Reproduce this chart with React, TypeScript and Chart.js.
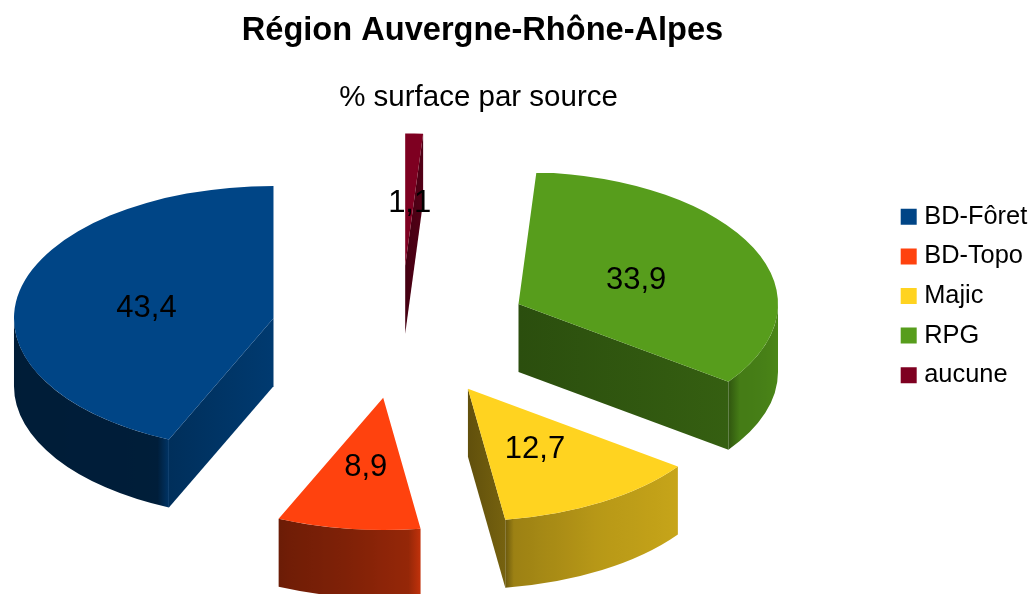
import React, { useEffect, useRef } from "react";
import { Chart, registerables } from "chart.js";

Chart.register(...registerables);

const categories = ["BD-Fôret", "BD-Topo", "Majic", "RPG", "aucune"];
const shares = [43.4, 8.9, 12.7, 33.9, 1.1];
const colours = ["#004586", "#ff420e", "#ffd320", "#579d1c", "#7e0021"];
const chartTitle = "Région Auvergne-Rhône-Alpes";
const chartSubtitle = "% surface par source";

// The pie runs clockwise from 12 o'clock starting with the last category.
const drawLabels = [...categories].reverse();
const drawValues = [...shares].reverse();
const drawColours = [...colours].reverse();

const FONT = "'Liberation Sans', Arial, sans-serif";
const RADIUS = 259.5;
const EXPLODE = 130;
const SQUASH = 0.51;
const DEPTH = 68;
const CENTER_X = 400.7;
const CENTER_Y = 332;

// Brightness of a wall by the clock direction (degrees) of its outward normal.
const rimShades: [number, number][] = [
  [60, 0.85], [90, 0.87], [114, 0.8], [126, 0.78], [150, 0.72], [172, 0.6],
  [188, 0.5], [204, 0.43], [240, 0.42], [270, 0.41], [300, 0.4],
];
const sideShades: [number, number][] = [
  [80, 0.78], [94, 0.6], [114, 0.76], [216, 0.55], [262, 0.42],
];

function shade(table: [number, number][], clockDeg: number) {
  const d = ((clockDeg % 360) + 360) % 360;
  if (d <= table[0][0]) return table[0][1];
  for (let i = 1; i < table.length; i++) {
    const [a, sa] = table[i - 1];
    const [b, sb] = table[i];
    if (d <= b) return sa + ((sb - sa) * (d - a)) / (b - a);
  }
  return table[table.length - 1][1];
}

function tint(hex: string, s: number) {
  const n = parseInt(hex.slice(1), 16);
  const f = (v: number) => Math.min(255, Math.round(v * s));
  return `rgb(${f((n >> 16) & 255)},${f((n >> 8) & 255)},${f(n & 255)})`;
}

const toClock = (rad: number) => (rad * 180) / Math.PI + 90;

function drawWalls(ctx: CanvasRenderingContext2D, arc: any, colour: string, cx: number, cy: number) {
  const { startAngle, endAngle, outerRadius: R } = arc.getProps(["startAngle", "endAngle", "outerRadius"], true);
  const mid = (startAngle + endAngle) / 2;
  const ax = cx + Math.cos(mid) * EXPLODE;
  const ay = cy + Math.sin(mid) * EXPLODE * SQUASH;
  const pt = (a: number) => [ax + Math.cos(a) * R, ay + Math.sin(a) * R * SQUASH];
  const [sx, sy] = pt(startAngle);
  const [ex, ey] = pt(endAngle);

  const radial = (x: number, y: number, normal: number) => {
    const s = shade(sideShades, normal);
    const g = ctx.createLinearGradient(Math.min(x, ax), 0, Math.max(x, ax), 0);
    g.addColorStop(0, tint(colour, s * 0.9));
    g.addColorStop(1, tint(colour, s * 1.1));
    ctx.fillStyle = g;
    ctx.beginPath();
    ctx.moveTo(ax, ay);
    ctx.lineTo(x, y);
    ctx.lineTo(x, y + DEPTH);
    ctx.lineTo(ax, ay + DEPTH);
    ctx.closePath();
    ctx.fill();
  };
  if (sx < ax) radial(sx, sy, toClock(startAngle) - 90);
  if (ex > ax) radial(ex, ey, toClock(endAngle) + 90);

  const a0 = Math.max(startAngle, 0);
  const a1 = Math.min(endAngle, Math.PI);
  if (a1 <= a0) return;
  const x0 = ax + Math.cos(a0) * R;
  const x1 = ax + Math.cos(a1) * R;
  const span = x0 - x1;
  const g = ctx.createLinearGradient(x1, 0, x0, 0);
  const blend = 8;
  if (a1 === endAngle) {
    g.addColorStop(0, tint(colour, shade(sideShades, toClock(endAngle) + 90)));
  }
  for (let i = 24; i >= 0; i--) {
    const a = a0 + ((a1 - a0) * i) / 24;
    const x = ax + Math.cos(a) * R;
    const nearStart = a0 === startAngle && x0 - x < blend;
    const nearEnd = a1 === endAngle && x - x1 < blend;
    if (nearStart || nearEnd) continue;
    g.addColorStop((x - x1) / span, tint(colour, shade(rimShades, toClock(a))));
  }
  if (a0 === startAngle) {
    g.addColorStop(1, tint(colour, shade(sideShades, toClock(startAngle) - 90)));
  }
  ctx.fillStyle = g;
  ctx.beginPath();
  ctx.ellipse(ax, ay, R, R * SQUASH, 0, a0, a1, false);
  ctx.lineTo(x1, ay + Math.sin(a1) * R * SQUASH + DEPTH);
  ctx.ellipse(ax, ay + DEPTH, R, R * SQUASH, 0, a1, a0, true);
  ctx.closePath();
  ctx.fill();
}

const pie3d = {
  id: "pie3d",
  afterLayout(chart: any) {
    for (const box of chart.boxes) {
      const text = box.options?.text;
      if (text === chartTitle) {
        box.left -= 33.5;
        box.right -= 33.5;
      } else if (text === chartSubtitle) {
        box.left -= 37.5;
        box.right -= 37.5;
      }
    }
    const lg = chart.legend;
    const h = lg.bottom - lg.top;
    const w = lg.right - lg.left;
    lg.left = 905.9 - lg.options.labels.padding;
    lg.right = lg.left + w;
    lg.top = 296 - h / 2;
    lg.bottom = lg.top + h;
  },
  afterDatasetsUpdate(chart: any) {
    // Explode every slice by the same distance from the pie's centre.
    for (const arc of chart.getDatasetMeta(0).data) {
      const mid = (arc.startAngle + arc.endAngle) / 2;
      arc.x = CENTER_X + Math.cos(mid) * EXPLODE;
      arc.y = CENTER_Y / SQUASH + Math.sin(mid) * EXPLODE;
    }
  },
  beforeDatasetsDraw(chart: any) {
    const { ctx } = chart;
    const arcs = chart.getDatasetMeta(0).data;
    arcs.forEach((arc: any, i: number) => drawWalls(ctx, arc, drawColours[i], CENTER_X, CENTER_Y));
    ctx.save();
    ctx.scale(1, SQUASH);
  },
  afterDatasetsDraw(chart: any) {
    const { ctx } = chart;
    ctx.restore();
    const arcs = chart.getDatasetMeta(0).data;
    ctx.save();
    ctx.font = `31px ${FONT}`;
    ctx.fillStyle = "#000";
    ctx.textAlign = "center";
    ctx.textBaseline = "middle";
    arcs.forEach((arc: any, i: number) => {
      const { startAngle, endAngle, outerRadius: R } = arc.getProps(["startAngle", "endAngle", "outerRadius"], true);
      const mid = (startAngle + endAngle) / 2;
      const dist = EXPLODE + R / 2;
      const x = CENTER_X + Math.cos(mid) * dist;
      const y = CENTER_Y + Math.sin(mid) * dist * SQUASH + 4;
      ctx.fillText(String(drawValues[i]).replace(".", ","), x, y);
    });
    ctx.restore();
  },
};

export default function App() {
  const ref = useRef<HTMLCanvasElement>(null);
  useEffect(() => {
    const chart = new Chart(ref.current!, {
      type: "pie",
      data: {
        labels: drawLabels,
        datasets: [
          {
            data: drawValues,
            backgroundColor: drawColours,
            borderWidth: 0,
            radius: RADIUS,
            clip: false,
          } as any,
        ],
      },
      options: {
        animation: false,
        responsive: false,
        layout: { padding: 0 },
        plugins: {
          title: {
            display: true,
            text: chartTitle,
            color: "#000",
            font: { family: FONT, size: 32.6, weight: "bold", lineHeight: 1.2 },
            padding: { top: 11, bottom: 30 },
          },
          subtitle: {
            display: true,
            text: chartSubtitle,
            color: "#000",
            font: { family: FONT, size: 29.5, weight: "normal", lineHeight: 1.2 },
            padding: 0,
          },
          legend: {
            position: "right",
            reverse: true,
            labels: {
              color: "#000",
              font: { family: FONT, size: 25.4 },
              usePointStyle: true,
              pointStyle: "rect",
              boxWidth: 5.6,
              boxHeight: 16,
              padding: 14.2,
            },
          },
          tooltip: { enabled: false },
        },
      },
      plugins: [pie3d],
    } as any);
    return () => chart.destroy();
  }, []);
  return (
    <div style={{ position: "fixed", left: 0, top: 0, width: 1032, height: 594, background: "#fff" }}>
      <canvas ref={ref} width={1032} height={594} style={{ display: "block" }} />
    </div>
  );
}
